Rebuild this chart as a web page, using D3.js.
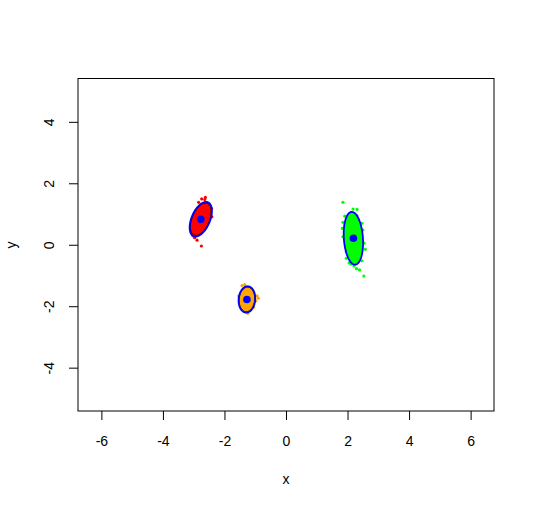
<!DOCTYPE html>
<html>
<head>
<meta charset="utf-8">
<script src="https://cdn.jsdelivr.net/npm/d3@7"></script>
<style>
  body { margin: 0; background: #fff; }
  text { font-family: "Liberation Sans", Arial, sans-serif; }
</style>
</head>
<body>
<div class="graph"></div>
<script>
// tick values
const xTicks = [-6, -4, -2, 0, 2, 4, 6]
const yTicks = [-4, -2, 0, 2, 4]

// scattered points (data units)
const redX = [-2.62, -2.74, -2.84, -2.64, -2.42, -2.41, -3.10, -3.02, -2.97, -2.89, -3.03, -2.75, -2.78, -2.9, -2.62, -2.7, -2.95, -2.68]
const redY = [1.54, 1.49, 1.38, 1.47, 1.18, 0.91, 0.64, 0.29, 0.23, 0.15, 0.41, -0.04, 0.9, 0.6, 1.2, 1.05, 0.45, 0.72]
const orangeX = [-1.43, -1.34, -0.94, -0.90, -0.98, -1.24, -1.54, -1.05, -1.3, -1.2, -1.35, -1.15]
const orangeY = [-1.33, -1.30, -1.66, -1.74, -1.83, -2.23, -1.67, -2.03, -1.6, -1.95, -1.9, -1.55]
const greenX = [1.85, 2.18, 2.31, 1.91, 1.85, 1.83, 2.47, 2.50, 1.85, 2.53, 2.58, 1.96, 1.96, 2.05, 2.12, 2.21, 2.29, 2.39, 2.47, 2.53, 2.1, 2.25, 2.2, 2.05, 2.3]
const greenY = [1.38, 1.16, 1.15, 0.93, 0.73, 0.53, 0.70, 0.48, 0.26, 0.05, -0.15, -0.23, -0.44, -0.59, -0.63, -0.69, -0.78, -0.82, -0.52, -1.02, 0.8, 0.4, -0.3, 0.1, 0.95]

// cluster ellipses: centre, semi axes, angle (deg)
const groups = ["red", "orange", "green"]
const fills = ["#ff0000", "#ffa500", "#00ff00"]
const centerX = [-2.77, -1.27, 2.19]
const centerY = [0.83, -1.78, 0.21]
const semiA = [0.6, 0.43, 0.86]
const semiB = [0.3, 0.27, 0.31]
const angle = [67, 85, 94]

const width = 535, height = 509
const svg = d3.select(".graph").append("svg").attr("width", width).attr("height", height)

const x = d3.scaleLinear().domain([-6.76, 6.76]).range([78, 494])
const y = d3.scaleLinear().domain([-5.41, 5.41]).range([411, 78.5])

const ptsX = [redX, orangeX, greenX]
const ptsY = [redY, orangeY, greenY]

function ellipsePath(i, k) {
    const t = angle[i] * Math.PI / 180
    const pts = d3.range(0, 361, 3).map(d => {
        const u = d * Math.PI / 180
        const ex = semiA[i] * k * Math.cos(u), ey = semiB[i] * k * Math.sin(u)
        return [x(centerX[i] + ex * Math.cos(t) - ey * Math.sin(t)),
                y(centerY[i] + ex * Math.sin(t) + ey * Math.cos(t))]
    })
    return d3.line()(pts) + "Z"
}

groups.forEach((g, i) => {
    svg.append("g").selectAll("circle")
        .data(ptsX[i])
        .join("circle")
        .attr("cx", d => x(d))
        .attr("cy", (d, j) => y(ptsY[i][j]))
        .attr("r", 1.6)
        .attr("fill", fills[i])

    svg.append("path").attr("d", ellipsePath(i, 1)).attr("fill", fills[i]).attr("stroke", "none")
    if (i < 2) {
        svg.append("path").attr("d", ellipsePath(i, 0.93)).attr("fill", "none").attr("stroke", "#000").attr("stroke-width", 1)
    }
    svg.append("path").attr("d", ellipsePath(i, 1)).attr("fill", "none").attr("stroke", "#0000ff").attr("stroke-width", 1.8)
    svg.append("circle").attr("cx", x(centerX[i])).attr("cy", y(centerY[i])).attr("r", 3.8).attr("fill", "#0000ff")
})

// box
svg.append("rect").attr("x", 78).attr("y", 78.5).attr("width", 416).attr("height", 332.5)
    .attr("fill", "none").attr("stroke", "#000").attr("stroke-width", 1)

const gx = svg.append("g").attr("transform", "translate(0,411)")
    .call(d3.axisBottom(x).tickValues(xTicks).tickSize(9).tickPadding(16).tickFormat(d => d))
gx.select(".domain").remove()
gx.selectAll("text").attr("font-size", 14).attr("font-family", "Liberation Sans, Arial, sans-serif").attr("fill", "#000")

const gy = svg.append("g").attr("transform", "translate(78,0)")
    .call(d3.axisLeft(y).tickValues(yTicks).tickSize(9).tickFormat(d => d))
gy.select(".domain").remove()
gy.selectAll("text")
    .attr("x", null).attr("dy", null)
    .attr("transform", "translate(-24,0) rotate(-90)")
    .attr("text-anchor", "middle")
    .attr("font-size", 14).attr("font-family", "Liberation Sans, Arial, sans-serif").attr("fill", "#000")

svg.append("text").attr("x", 286).attr("y", 484).attr("text-anchor", "middle").attr("font-size", 14).text("x")
svg.append("text").attr("transform", "translate(16,245) rotate(-90)").attr("text-anchor", "middle").attr("font-size", 14).text("y")
</script>
</body>
</html>
